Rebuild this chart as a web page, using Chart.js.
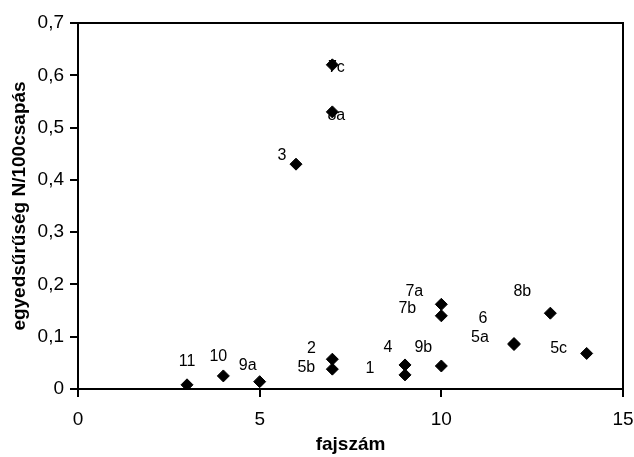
<!DOCTYPE html>
<html>
<head>
<meta charset="utf-8">
<script src="https://cdn.jsdelivr.net/npm/chart.js@4"></script>
<style>
    html, body { margin: 0; padding: 0; background: #fff; }
    #wrap { width: 634px; height: 457px; }
</style>
</head>
<body>
<div id="wrap"><canvas id="scatter-chart"></canvas></div>
<script>
// Data
const pointLabels = ['1', '2', '3', '4', '5a', '5b', '5c', '6', '7a', '7b', '7c', '8a', '8b', '9a', '9b', '10', '11'];
const fajszam = [9, 7, 6, 9, 12, 7, 14, 12, 10, 10, 7, 7, 13, 5, 10, 4, 3];
const egyedsuruseg = [0.027, 0.057, 0.43, 0.046, 0.085, 0.038, 0.068, 0.087, 0.162, 0.14, 0.62, 0.53, 0.145, 0.014, 0.044, 0.025, 0.008];
const yTickLabels = ['0', '0,1', '0,2', '0,3', '0,4', '0,5', '0,6', '0,7'];
const xTickLabels = ['0', '5', '10', '15'];

// label placement (pixel offset of text centre from its marker)
const labelOffsets = {
    '1': [-35, -6], '2': [-21, -11], '3': [-14, -9], '4': [-17, -17],
    '5a': [-34, -7], '5b': [-26, -2], '5c': [-28, -5], '6': [-31, -25],
    '7a': [-27, -13], '7b': [-34, -7], '7c': [4, 3], '8a': [4, 4],
    '8b': [-28, -22], '9a': [-12, -16], '9b': [-18, -18], '10': [-5, -19], '11': [0, -23],
};

const FONT = '"Liberation Sans", Arial, sans-serif';

const pointLabelPlugin = {
    id: 'pointLabels',
    beforeDatasetsDraw(chart) {
        const { ctx } = chart;
        const meta = chart.getDatasetMeta(0);
        ctx.save();
        ctx.font = '16px ' + FONT;
        ctx.fillStyle = '#000';
        ctx.textAlign = 'center';
        ctx.textBaseline = 'middle';
        meta.data.forEach((pt, i) => {
            const off = labelOffsets[pointLabels[i]] || [0, -15];
            ctx.fillText(pointLabels[i], pt.x + off[0], pt.y + off[1]);
        });
        ctx.restore();
    },
};

// box round the plot area
const framePlugin = {
    id: 'frame',
    afterDraw(chart) {
        const { ctx, chartArea: a } = chart;
        ctx.save();
        ctx.strokeStyle = '#000';
        ctx.lineWidth = 2;
        ctx.strokeRect(a.left, a.top, a.right - a.left, a.bottom - a.top);
        ctx.restore();
    },
};

new Chart(document.getElementById('scatter-chart'), {
    type: 'scatter',
    data: {
        datasets: [{
            label: 'egyedsűrűség',
            data: fajszam.map((x, i) => ({ x: x, y: egyedsuruseg[i] })),
            pointStyle: 'rectRot',
            pointRadius: 6,
            pointHoverRadius: 6,
            backgroundColor: '#000',
            borderColor: '#000',
            borderWidth: 1,
        }],
    },
    options: {
        responsive: true,
        maintainAspectRatio: false,
        animation: false,
        layout: { padding: { top: 23, right: 0, left: 0, bottom: 0 } },
        plugins: {
            legend: { display: false },
            tooltip: { enabled: false },
        },
        scales: {
            x: {
                type: 'linear',
                min: 0,
                max: 15,
                afterFit: (s) => { s.height = 68; s.paddingRight = 11; },
                afterBuildTicks: (s) => { s.ticks = xTickLabels.map((t) => ({ value: Number(t) })); },
                ticks: {
                    color: '#000',
                    padding: 11,
                    font: { family: FONT, size: 19 },
                    callback: (v, i) => xTickLabels[i],
                },
                grid: { drawOnChartArea: false, drawTicks: true, tickLength: 8, color: '#000', lineWidth: 2 },
                border: { display: true, color: '#000', width: 2 },
                title: {
                    display: true,
                    text: 'fajszám',
                    color: '#000',
                    padding: { top: 0, bottom: 1 },
                    font: { family: FONT, size: 19, weight: 'bold' },
                },
            },
            y: {
                type: 'linear',
                min: 0,
                max: 0.7,
                afterFit: (s) => { s.width = 78; },
                afterBuildTicks: (s) => { s.ticks = yTickLabels.map((t) => ({ value: Number(t.replace(',', '.')) })); },
                ticks: {
                    color: '#000',
                    padding: 6,
                    font: { family: FONT, size: 19 },
                    callback: (v, i) => yTickLabels[i],
                },
                grid: { drawOnChartArea: false, drawTicks: true, tickLength: 8, color: '#000', lineWidth: 2 },
                border: { display: true, color: '#000', width: 2 },
                title: {
                    display: true,
                    text: 'egyedsűrűség N/100csapás',
                    color: '#000',
                    padding: { top: 8, bottom: 0 },
                    font: { family: FONT, size: 19, weight: 'bold' },
                },
            },
        },
    },
    plugins: [pointLabelPlugin, framePlugin],
});
</script>
</body>
</html>
